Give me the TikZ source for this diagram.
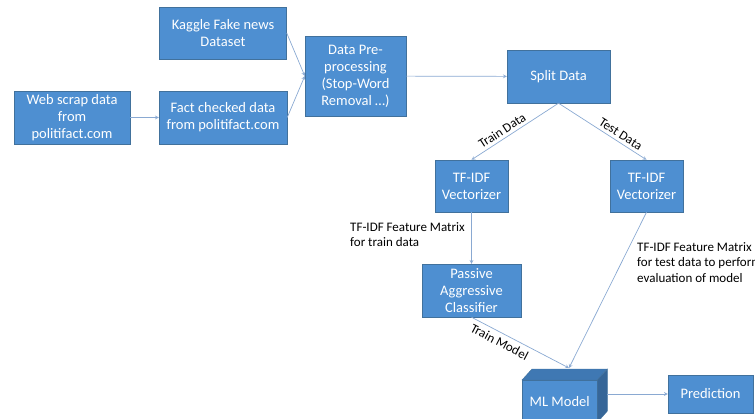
\documentclass[tikz,border=0pt]{standalone}
\usepackage{fontspec}
\setmainfont{Carlito}
\definecolor{boxfill}{HTML}{4E8FD1}
\definecolor{boxline}{HTML}{41719C}
\definecolor{boxdark}{HTML}{3F78B3}
\definecolor{linkcol}{HTML}{8AA9D2}

\begin{document}
\begin{tikzpicture}[x=1pt, y=-1pt, >=stealth]
  \tikzset{box/.style={draw=boxline, fill=boxfill, text=white, align=center,
      inner sep=1pt, font=\fontsize{14.5}{17}\selectfont},
    link/.style={->, draw=linkcol, line width=0.7pt},
    note/.style={align=left, inner sep=0pt, font=\fontsize{13}{15.5}\selectfont}}
  \useasboundingbox (0,0) rectangle (755,418);
  \node[box, minimum width=116, minimum height=53] (web-1) at (72,117.5) {Web scrap data\\from\\politifact.com};
  \node[box, minimum width=127, minimum height=52] (kaggle-1) at (223,33) {Kaggle Fake news\\Dataset};
  \node[box, minimum width=128, minimum height=53] (fact-1) at (223,117.5) {Fact checked data\\from politifact.com};
  \node[box, minimum width=101, minimum height=80] (pre-1) at (355.5,76) {Data Pre-\\processing\\(Stop-Word\\Removal …)};
  \node[box, minimum width=103, minimum height=53] (split-1) at (558.5,76.5) {Split Data};
  \node[box, minimum width=73, minimum height=52] (vec-1) at (471.5,186) {TF-IDF\\Vectorizer};
  \node[box, minimum width=73, minimum height=52] (vec-2) at (646.5,186) {TF-IDF\\Vectorizer};
  \node[box, minimum width=99, minimum height=53] (pac-1) at (471.5,290.5) {Passive\\Aggressive\\Classifier};
  \node[box, minimum width=75, minimum height=42, anchor=north west] (ml-1) at (522,380) {ML Model};
  \filldraw[draw=boxline, fill=boxdark] (ml-1.north west) -- ++(10,-11) -- ++(75,0) -- (ml-1.north east) -- cycle;
  \filldraw[draw=boxline, fill=boxdark!85!black] (ml-1.north east) -- ++(10,-11) -- ++(0,42) -- (ml-1.south east) -- cycle;
  \node[box, minimum width=85, minimum height=38] (pred-1) at (710.5,394) {Prediction};
  \coordinate (ml-top) at (569,368);
  \coordinate (ml-side) at (607,394);
  \draw[link] (web-1) -- (fact-1);
  \draw[link] (kaggle-1.east) -- (pre-1.west);
  \draw[link] (fact-1.east) -- (pre-1.west);
  \draw[link] (pre-1) -- (split-1);
  \draw[link] (split-1.south) -- node[note, sloped, above=3pt, pos=0.6] {Train Data} (vec-1.north);
  \draw[link] (split-1.south) -- node[note, sloped, above=3pt, pos=0.66] {Test Data} (vec-2.north);
  \draw[link] (vec-1) -- (pac-1);
  \draw[link] (pac-1.south) -- node[note, sloped, below=4pt, pos=0.33] {Train Model} (ml-top);
  \draw[link] (vec-2.south) -- (ml-top);
  \draw[link] (ml-side) -- (pred-1.west);
  \node[note, anchor=north west] (mat-1) at (350,222) {TF-IDF Feature Matrix\\for train data};
  \node[note, anchor=north west] (mat-2) at (637,242) {TF-IDF Feature Matrix\\for test data to perform\\evaluation of model};
\end{tikzpicture}
\end{document}
